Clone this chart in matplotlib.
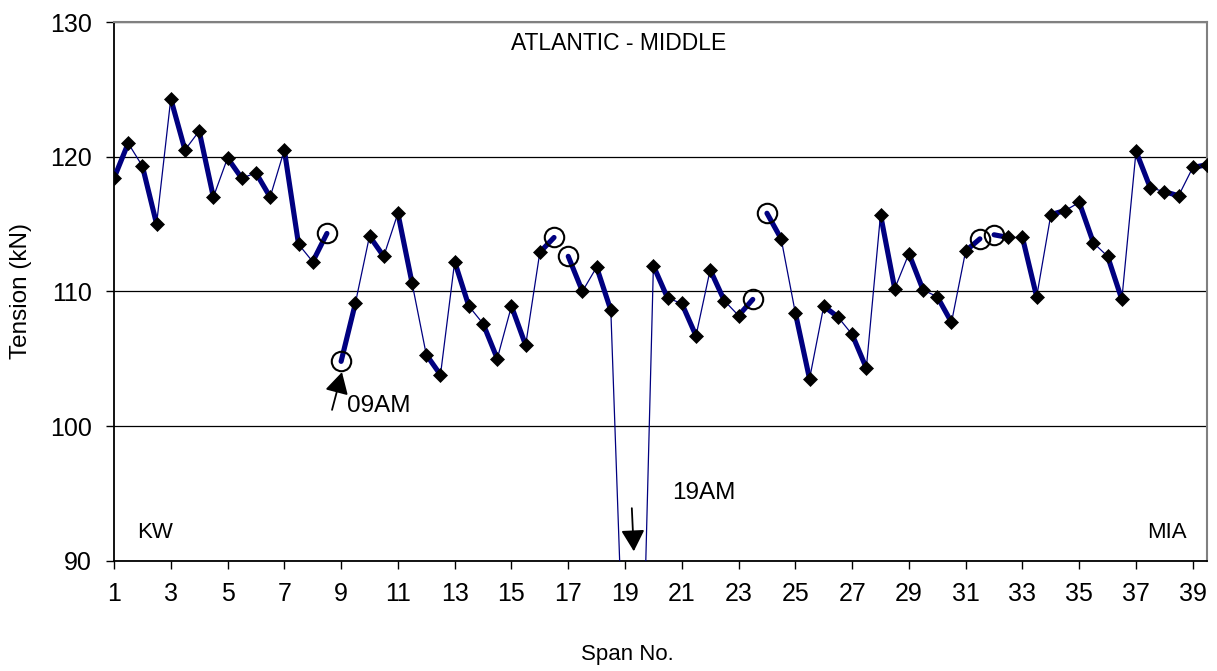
import numpy as np
import matplotlib.pyplot as plt

plt.rcParams['font.family'] = ['Liberation Sans', 'DejaVu Sans']

# span positions: start and end measurement of each span (1 .. 39.5)
span = np.arange(1, 39.75, 0.5)
tension = [118.4, 121.0, 119.3, 115.0, 124.3, 120.5, 121.9, 117.0, 119.9, 118.4,
           118.8, 117.0, 120.5, 113.5, 112.2, 114.3, 104.8, 109.1, 114.1, 112.6,
           115.8, 110.6, 105.3, 103.8, 112.2, 108.9, 107.6, 105.0, 108.9, 106.0,
           112.9, 114.0, 112.6, 110.0, 111.8, 108.6, 78.7, 71.0, 111.9, 109.5,
           109.1, 106.7, 111.6, 109.3, 108.2, 109.4, 115.8, 113.9, 108.4, 103.5,
           108.9, 108.1, 106.8, 104.3, 115.7, 110.2, 112.8, 110.1, 109.6, 107.7,
           113.0, 113.9, 114.2, 114.0, 114.0, 109.6, 115.7, 116.0, 116.6, 113.6,
           112.6, 109.4, 120.4, 117.7, 117.4, 117.1, 119.2, 119.4]
# points drawn only as circles (not part of the thin series)
circled = [8.5, 9, 16.5, 17, 23.5, 24, 31.5, 32]

tension = np.array(tension)
thin = tension.copy()
thin[np.isin(span, circled)] = np.nan

fig = plt.figure(figsize=(12.17, 6.71), dpi=100)
ax = fig.add_axes([114/1217, 1-560.7/671, 1093/1217, 538.7/671])

ax.plot(span, thin, color='#000080', lw=0.9, zorder=3)
for k in range(0, len(span), 2):
    ax.plot(span[k:k+2], tension[k:k+2], color='#000080', lw=3.7,
            solid_capstyle='round', zorder=4)
ax.plot(span, thin, ls='none', marker='D', ms=7, mfc='black', mec='black',
        mew=0.5, zorder=5)
m = np.isin(span, circled)
ax.plot(span[m], tension[m], ls='none', marker='o', ms=14, mfc='none',
        mec='black', mew=1.5, zorder=6)

ax.set_xlim(1, 39.5)
ax.set_ylim(90, 130)
ax.set_xticks(np.arange(1, 40, 2))
ax.set_yticks(np.arange(90, 131, 10))
ax.tick_params(axis='both', labelsize=18, length=6, width=1, direction='out')
ax.tick_params(axis='x', pad=9)
ax.tick_params(axis='y', pad=10)

ax.set_axisbelow(True)
ax.yaxis.grid(True, color='black', lw=0.9)
for s in ['top', 'right']:
    ax.spines[s].set_color('#808080')
    ax.spines[s].set_linewidth(1.5)
for s in ['left', 'bottom']:
    ax.spines[s].set_color('black')
    ax.spines[s].set_linewidth(1.3)

ax.set_xlabel('Span No.', fontsize=16)
ax.xaxis.set_label_coords(0.47, -0.155)
ax.set_ylabel('Tension (kN)', fontsize=17.5)
ax.yaxis.set_label_coords(-0.075, 0.5)

ax.text(18.78, 128.4, 'ATLANTIC - MIDDLE', fontsize=16.5, ha='center', va='center')
ax.text(1.81, 92.06, 'KW', fontsize=16, ha='left', va='center')
ax.text(38.8, 92.06, 'MIA', fontsize=16, ha='right', va='center')

arrow = dict(arrowstyle='-|>,head_length=0.65,head_width=0.36', color='black',
             lw=1.3, mutation_scale=20, shrinkA=0, shrinkB=0)
ax.annotate('', xy=(9.03, 104.0), xytext=(8.68, 101.2), arrowprops=arrow)
ax.text(9.2, 101.5, '09AM', fontsize=17.5, ha='left', va='center')
ax.annotate('', xy=(19.31, 90.7), xytext=(19.24, 93.9), arrowprops=arrow)
ax.text(20.65, 95.0, '19AM', fontsize=17.5, ha='left', va='center')

fig.savefig('out.png', dpi=100)
